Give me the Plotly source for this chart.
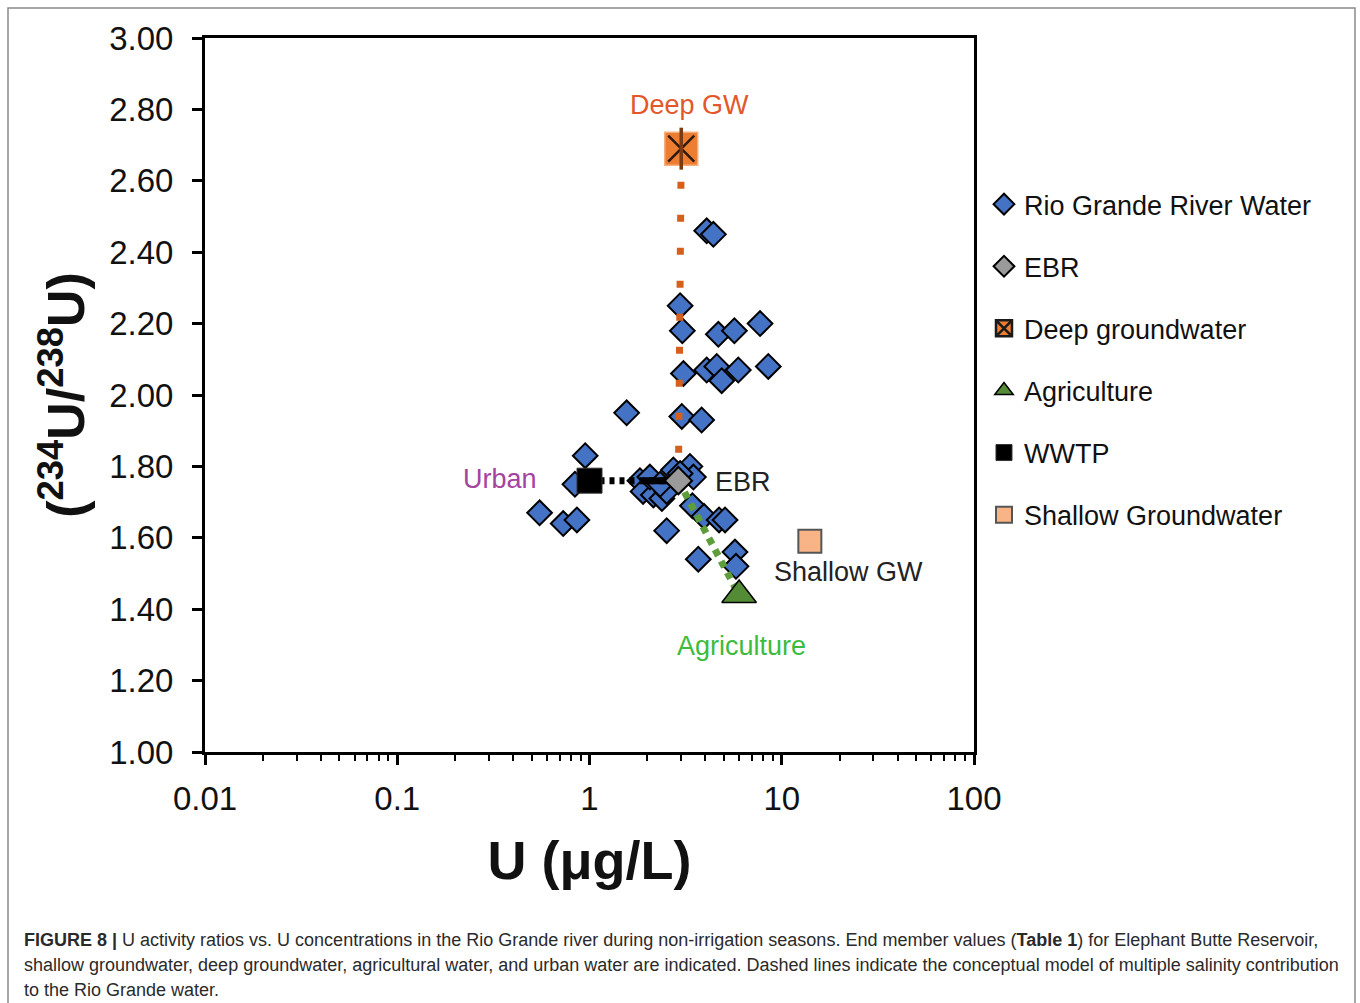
import plotly.graph_objects as go

# Rio Grande river water samples (non-irrigation seasons)
rio_u = [4.07, 4.41, 2.96, 3.04, 4.68, 5.67, 7.71, 3.08, 4.07, 4.59, 4.87, 5.94, 8.51,
         1.56, 3.02, 3.83, 0.95, 0.84, 0.55, 0.73, 0.86, 2.52, 3.43, 3.94, 4.72, 5.07,
         3.68, 5.71, 5.78, 1.83, 1.90, 2.15, 2.38, 2.52, 2.73, 3.33, 3.47, 2.96, 2.06, 2.33]
rio_ratio = [2.46, 2.45, 2.25, 2.18, 2.17, 2.18, 2.20, 2.06, 2.07, 2.08, 2.04, 2.07, 2.08,
             1.95, 1.94, 1.93, 1.83, 1.75, 1.67, 1.64, 1.65, 1.62, 1.69, 1.66, 1.65, 1.65,
             1.54, 1.56, 1.52, 1.76, 1.73, 1.72, 1.71, 1.73, 1.79, 1.80, 1.77, 1.78, 1.77, 1.75]

# End members
ebr_u, ebr_ratio = [2.9], [1.76]
deep_u, deep_ratio = [3.0], [2.69]
agri_u, agri_ratio = [6.0], [1.44]
wwtp_u, wwtp_ratio = [1.0], [1.76]
shallow_u, shallow_ratio = [14.0], [1.59]
urban_solid_u = 1.9  # start of the solid part of the urban mixing line

x_ticks = [0.01, 0.1, 1, 10, 100]
x_ticktext = ["0.01", "0.1", "1", "10", "100"]
x_minor = [m * 10 ** e for e in range(-2, 2) for m in range(2, 10)]

FONT = "Liberation Sans, Arial, sans-serif"

fig = go.Figure()

fig.add_trace(go.Scatter(
    x=rio_u, y=rio_ratio, mode="markers", name="Rio Grande River Water",
    legendgroup="rio", legendrank=1,
    marker=dict(symbol="diamond", size=19, color="#4472C4",
                line=dict(color="black", width=2))))

# Mixing lines
fig.add_trace(go.Scatter(
    x=[deep_u[0], ebr_u[0]], y=[deep_ratio[0], ebr_ratio[0]], mode="lines",
    showlegend=False, hoverinfo="skip",
    line=dict(color="#D4601C", width=7, dash="7px,26px")))
fig.add_trace(go.Scatter(
    x=[wwtp_u[0], ebr_u[0]], y=[wwtp_ratio[0], ebr_ratio[0]], mode="lines",
    showlegend=False, hoverinfo="skip",
    line=dict(color="black", width=7, dash="5px,5px")))
fig.add_trace(go.Scatter(
    x=[urban_solid_u, ebr_u[0]], y=[wwtp_ratio[0], ebr_ratio[0]], mode="lines",
    showlegend=False, hoverinfo="skip",
    line=dict(color="black", width=7)))
fig.add_trace(go.Scatter(
    x=[ebr_u[0], agri_u[0]], y=[ebr_ratio[0], agri_ratio[0]], mode="lines",
    showlegend=False, hoverinfo="skip",
    line=dict(color="#5E9E3A", width=7, dash="7px,6px")))

fig.add_trace(go.Scatter(
    x=ebr_u, y=ebr_ratio, mode="markers", name="EBR",
    legendgroup="ebr", legendrank=2,
    marker=dict(symbol="diamond", size=21, color="#9A9A9A",
                line=dict(color="black", width=2))))

fig.add_trace(go.Scatter(
    x=deep_u, y=deep_ratio, mode="markers", name="Deep groundwater",
    legendgroup="deep", legendrank=3,
    marker=dict(symbol="square-x", size=31, color="#ED7D31",
                line=dict(color="#1a1a1a", width=2.5))))
fig.add_trace(go.Scatter(
    x=deep_u, y=deep_ratio, mode="markers", showlegend=False, hoverinfo="skip",
    legendgroup="deep",
    marker=dict(symbol="square", size=33, color="#ED7D31",
                line=dict(color="#F6B07E", width=1.5))))
fig.add_trace(go.Scatter(
    x=deep_u, y=deep_ratio, mode="markers", showlegend=False, hoverinfo="skip",
    legendgroup="deep",
    marker=dict(symbol="x-thin-open", size=26, color="#2a1a10",
                line=dict(color="#2a1a10", width=2.5))))
fig.add_trace(go.Scatter(
    x=deep_u, y=deep_ratio, mode="markers", showlegend=False, hoverinfo="skip",
    legendgroup="deep",
    marker=dict(symbol="line-ns-open", size=30, color="#7A3A12",
                line=dict(color="#7A3A12", width=3.5))))

fig.add_trace(go.Scatter(
    x=agri_u, y=agri_ratio, mode="markers", name="Agriculture",
    legendgroup="agri", legendrank=4,
    marker=dict(symbol="triangle-up", size=30, color="#548C36",
                line=dict(color="black", width=1.5))))

fig.add_trace(go.Scatter(
    x=wwtp_u, y=wwtp_ratio, mode="markers", name="WWTP",
    legendgroup="wwtp", legendrank=5,
    marker=dict(symbol="square", size=25, color="black",
                line=dict(color="#333333", width=1))))

fig.add_trace(go.Scatter(
    x=shallow_u, y=shallow_ratio, mode="markers", name="Shallow Groundwater",
    legendgroup="shallow", legendrank=6,
    marker=dict(symbol="square", size=23, color="#F8B486",
                line=dict(color="#555555", width=2))))

# Labels for the end members
labels = [
    ("Deep GW", 689, 105, "#E2582A"),
    ("Urban", 500, 479, "#A5439F"),
    ("EBR", 743, 482, "#222222"),
    ("Shallow GW", 848, 572, "#222222"),
    ("Agriculture", 741, 646, "#3DBB3D"),
]


def px_to_paper(px, py):
    return (px - 205) / 769, (752 - py) / 714


for text, px, py, col in labels:
    xp, yp = px_to_paper(px, py)
    fig.add_annotation(x=xp, y=yp, xref="paper", yref="paper", text=text,
                       showarrow=False, xanchor="center", yanchor="middle",
                       font=dict(family=FONT, size=27, color=col))

# Caption
caption = [
    "<b>FIGURE 8 |</b> U activity ratios vs. U concentrations in the Rio Grande river during "
    "non-irrigation seasons. End member values (<b>Table 1</b>) for Elephant Butte Reservoir,",
    "shallow groundwater, deep groundwater, agricultural water, and urban water are indicated. "
    "Dashed lines indicate the conceptual model of multiple salinity contribution",
    "to the Rio Grande water.",
]
for i, line in enumerate(caption):
    xp, yp = px_to_paper(22, 940 + 25 * i)
    fig.add_annotation(x=xp, y=yp, xref="paper", yref="paper", text=line,
                       showarrow=False, xanchor="left", yanchor="middle",
                       font=dict(family=FONT, size=18, color="#2a2a2a"))

# Figure frame
x0, y1 = px_to_paper(8, 8)
x1, y0 = px_to_paper(1355, 1010)
fig.add_shape(type="rect", xref="paper", yref="paper", x0=x0, x1=x1, y0=y0, y1=y1,
              line=dict(color="#8a8a8a", width=1.5), layer="below")

fig.update_layout(
    width=1360, height=1003,
    margin=dict(l=205, r=386, t=38, b=251),
    paper_bgcolor="white", plot_bgcolor="white",
    font=dict(family=FONT, color="#111111"),
    legend=dict(x=1.013, y=0.801, xanchor="left", yanchor="top",
                font=dict(family=FONT, size=27, color="#111111"),
                itemsizing="trace", tracegroupgap=24,
                bgcolor="rgba(0,0,0,0)"),
    xaxis=dict(
        type="log", range=[-2, 2], showgrid=False, zeroline=False,
        showline=True, linewidth=3, linecolor="black", mirror=True,
        ticks="outside", ticklen=10, tickwidth=2.5, tickcolor="black",
        tickvals=x_ticks, ticktext=x_ticktext, ticklabelstandoff=5,
        tickfont=dict(family=FONT, size=33, color="#111111"),
        minor=dict(tickvals=x_minor, ticks="outside", ticklen=6, tickwidth=2,
                   tickcolor="black", showgrid=False),
        title=dict(text="<b>U (μg/L)</b>", standoff=26,
                   font=dict(family=FONT, size=54, color="#111111"))),
    yaxis=dict(
        range=[1, 3], tick0=1, dtick=0.2, tickformat=".2f",
        showgrid=False, zeroline=False,
        showline=True, linewidth=3, linecolor="black", mirror=True,
        ticks="outside", ticklen=10, tickwidth=2.5, tickcolor="black",
        ticklabelstandoff=12,
        tickfont=dict(family=FONT, size=33, color="#111111"),
        title=dict(text="<b>(<sup>234</sup>U/<sup>238</sup>U)</b>", standoff=8,
                   font=dict(family=FONT, size=52, color="#111111"))),
)

fig.write_html("out.html")
